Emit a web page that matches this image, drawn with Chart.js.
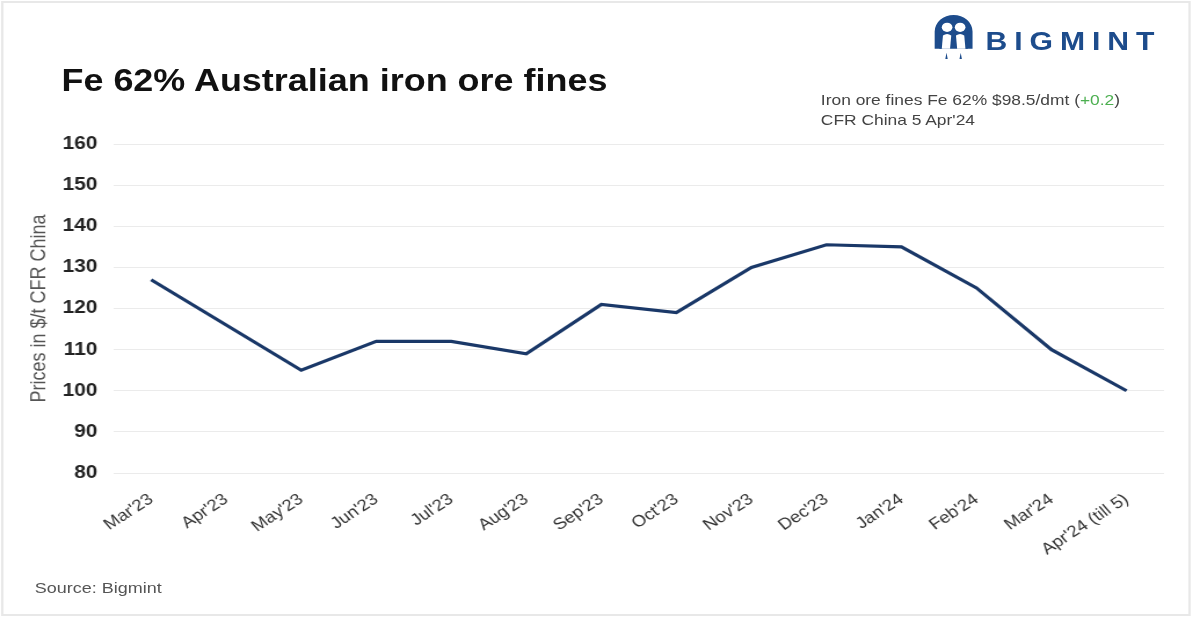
<!DOCTYPE html>
<html>
<head>
<meta charset="utf-8">
<script src="https://cdn.jsdelivr.net/npm/chart.js@4"></script>
<style>
  html, body { margin: 0; padding: 0; background: #fff; }
  body { width: 1200px; height: 618px; overflow: hidden; position: relative; font-family: "Liberation Sans", Arial, sans-serif; }
  /* the reference picture is a bit wider than tall, so the whole page is stretched sideways */
  #page { position: absolute; left: 0; top: 0; width: 1035px; height: 618px; transform: scaleX(1.1594); transform-origin: 0 0; }
  #frame { position: absolute; left: 1px; top: 1px; width: 1026px; height: 615px; border: 2px solid #e8e8e8; box-sizing: border-box; }
  #chart { position: absolute; left: 0; top: 0; }
  .title { position: absolute; left: 53px; top: 65px; font-size: 31px; line-height: 31px; font-weight: bold; color: #111; white-space: nowrap; }
  .note { position: absolute; left: 708px; top: 90px; font-size: 15px; line-height: 20px; color: #444; white-space: nowrap; }
  .note .up { color: #4caf50; }
  .brand { position: absolute; left: 850px; top: 28px; font-size: 26px; line-height: 26px; font-weight: bold; letter-spacing: 6px; color: #1d4c8c; }
  .logo { position: absolute; left: 804px; top: 12px; }
  .source { position: absolute; left: 30px; top: 578px; font-size: 15.5px; line-height: 20px; color: #555; }
</style>
</head>
<body>
<div id="page">
  <div id="frame"></div>
  <canvas id="chart" width="1035" height="618"></canvas>
  <div class="title">Fe 62% Australian iron ore fines</div>
  <svg class="logo" width="37" height="49" viewBox="0 0 36 48">
    <path d="M2 36 L2 19 A16 16 0 0 1 34 19 L34 36 L27 36 L27 24 A9 9 0 0 0 9 24 L9 36 Z" fill="#1d4c8c"/>
    <path d="M6 36 L6 20 A12 12 0 0 1 30 20 L30 36 Z" fill="#1d4c8c"/>
    <circle cx="12.5" cy="15" r="4.5" fill="#fff"/>
    <circle cx="23.5" cy="15" r="4.5" fill="#fff"/>
    <path d="M8 36 L9 23 Q12.5 20 16 23 L15 36 Z" fill="#fff"/>
    <path d="M21 36 L20 23 Q23.5 20 27 23 L28 36 Z" fill="#fff"/>
    <path d="M12 40 L13 46 L11 46 Z" fill="#1d4c8c"/>
    <path d="M24 40 L25 46 L23 46 Z" fill="#1d4c8c"/>
  </svg>
  <div class="brand">BIGMINT</div>
  <div class="note">Iron ore fines Fe 62% $98.5/dmt (<span class="up">+0.2</span>)<br>CFR China 5 Apr'24</div>
  <div class="source">Source: Bigmint</div>
</div>
<script>
const months = ["Mar'23", "Apr'23", "May'23", "Jun'23", "Jul'23", "Aug'23", "Sep'23",
    "Oct'23", "Nov'23", "Dec'23", "Jan'24", "Feb'24", "Mar'24", "Apr'24 (till 5)"];
const prices = [127, 116, 105, 112, 112, 109, 121, 119, 130, 135.5, 135, 125, 110, 100];
const yMin = 80;
const yMax = 160;
const yStep = 10;

const ctx = document.getElementById('chart');

new Chart(ctx, {
    type: 'line',
    data: {
        labels: months,
        datasets: [{
            label: 'Fe 62% Australian iron ore fines',
            data: prices,
            borderColor: '#1a3868',
            backgroundColor: '#1a3868',
            borderWidth: 3.2,
            pointRadius: 0,
            tension: 0
        }]
    },
    options: {
        responsive: false,
        animation: false,
        layout: {
            padding: { top: 144, right: 31, bottom: 0, left: 0 }
        },
        plugins: {
            legend: { display: false },
            tooltip: { enabled: false }
        },
        scales: {
            x: {
                offset: true,
                grid: { display: false },
                border: { display: false },
                ticks: {
                    autoSkip: false,
                    minRotation: 37,
                    maxRotation: 37,
                    padding: 9,
                    color: '#333',
                    font: { family: 'Liberation Sans', size: 16 }
                },
                afterFit: (scale) => { scale.height = 145; }
            },
            y: {
                min: yMin,
                max: yMax,
                border: { display: false },
                grid: { color: '#ebebeb', drawTicks: false },
                ticks: {
                    stepSize: yStep,
                    padding: 14,
                    color: '#222',
                    font: { family: 'Liberation Sans', size: 18, weight: 'bold' }
                },
                title: {
                    display: true,
                    text: 'Prices in $/t CFR China',
                    color: '#555',
                    padding: { top: 23, bottom: 0 },
                    font: { family: 'Liberation Sans', size: 18 }
                },
                afterFit: (scale) => { scale.width = 98; }
            }
        }
    }
});
</script>
</body>
</html>
